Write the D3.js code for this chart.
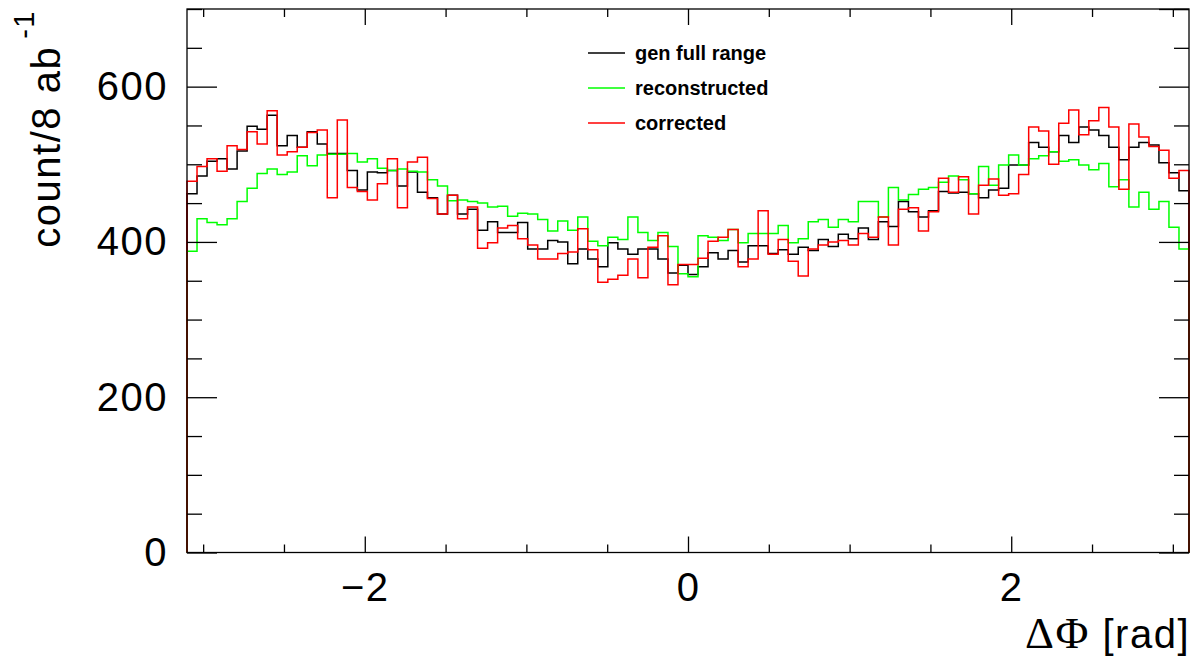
<!DOCTYPE html>
<html>
<head>
<meta charset="utf-8">
<script src="https://cdn.jsdelivr.net/npm/d3@7"></script>
<style>
  body { margin: 0; background: #fff; }
  svg { display: block; font-family: "Liberation Sans", Arial, sans-serif; }
</style>
</head>
<body>
<svg id="chart" width="1194" height="658"></svg>
<script>
// histogram range and binning
const xRange = [-3.1, 3.1];
const yRange = [0, 700];

// per-bin contents, 100 bins
const genFullRange = [
  462, 485, 504, 507, 494, 517, 549, 545, 563, 524,
  537, 522, 542, 526, 514, 514, 492, 467, 490, 489,
  492, 472, 490, 464, 457, 436, 460, 436, 442, 415,
  426, 412, 412, 425, 391, 391, 402, 400, 372, 391,
  378, 368, 399, 391, 384, 391, 391, 378, 360, 370,
  358, 368, 386, 378, 389, 374, 395, 395, 385, 390,
  384, 393, 389, 403, 394, 410, 404, 418, 403, 426,
  420, 452, 439, 432, 440, 465, 463, 464, 462, 457,
  467, 469, 499, 499, 528, 522, 516, 537, 528, 548,
  544, 537, 522, 506, 522, 528, 525, 502, 489, 466
];
const reconstructed = [
  388, 430, 425, 422, 430, 452, 469, 488, 494, 487,
  490, 511, 498, 512, 513, 513, 514, 503, 507, 495,
  492, 494, 491, 490, 480, 472, 453, 454, 452, 450,
  445, 446, 433, 437, 436, 429, 414, 427, 415, 432,
  401, 395, 406, 403, 432, 412, 402, 412, 394, 359,
  355, 408, 406, 402, 416, 399, 411, 411, 411, 421,
  399, 404, 426, 429, 419, 429, 426, 452, 452, 432,
  470, 454, 461, 468, 470, 477, 485, 480, 462, 497,
  473, 499, 512, 499, 507, 511, 516, 504, 506, 499,
  493, 501, 471, 480, 445, 464, 442, 452, 419, 391
];
const corrected = [
  478, 497, 507, 491, 524, 519, 542, 526, 569, 512,
  516, 522, 541, 544, 457, 557, 470, 465, 454, 475,
  507, 444, 503, 509, 456, 436, 460, 430, 445, 392,
  399, 418, 421, 404, 396, 378, 378, 385, 387, 417,
  390, 348, 352, 357, 378, 354, 393, 408, 345, 371,
  371, 379, 401, 406, 416, 368, 378, 440, 384, 403,
  375, 356, 391, 396, 400, 402, 396, 411, 406, 432,
  396, 442, 444, 414, 439, 482, 464, 484, 436, 473,
  481, 460, 462, 487, 548, 543, 500, 553, 570, 538,
  556, 573, 548, 468, 552, 535, 523, 518, 482, 492
];

const seriesNames = ["gen full range", "reconstructed", "corrected"];
const seriesColors = ["#000000", "#00ff00", "#ff0000"];
const seriesValues = [genFullRange, reconstructed, corrected];

// tick labels
const xMajorTicks = [-2, 0, 2];
const yMajorTicks = [0, 200, 400, 600];

// frame geometry
const frame = { left: 187, right: 1189, top: 9, bottom: 552.5 };

const svg = d3.select("#chart");

const x = d3.scaleLinear().domain(xRange).range([frame.left, frame.right]);
const y = d3.scaleLinear().domain(yRange).range([frame.bottom, frame.top]);

const xMinorTicks = d3.range(-3, 3.001, 0.5).filter(v => !xMajorTicks.includes(v));
const yMinorTicks = d3.range(0, 701, 50).filter(v => !yMajorTicks.includes(v));

const fmtX = d => (d < 0 ? "\u2212" + Math.abs(d) : String(d));

// step path, starting and ending at zero like ROOT does
const stepPoints = (vals) => {
  const w = (xRange[1] - xRange[0]) / vals.length;
  const pts = [[xRange[0], 0]];
  vals.forEach((v, i) => {
    pts.push([xRange[0] + i * w, v]);
    pts.push([xRange[0] + (i + 1) * w, v]);
  });
  pts.push([xRange[1], 0]);
  return pts;
};

const line = d3.line()
  .x(d => x(d[0]))
  .y(d => y(d[1]));

// histograms
svg.append("g")
  .selectAll("path")
  .data(seriesValues)
  .join("path")
  .attr("d", d => line(stepPoints(d)))
  .attr("fill", "none")
  .attr("stroke", (d, i) => seriesColors[i])
  .attr("stroke-width", 1.5);

// axes: ticks point inward on all four sides
const styleAxis = (g) => {
  g.select(".domain").remove();
  g.selectAll(".tick line").attr("stroke", "#000").attr("stroke-width", 1.3);
  g.selectAll(".tick text")
    .attr("fill", "#000")
    .style("font-size", "40px")
    .style("letter-spacing", "1.5px");
};

const bottomG = svg.append("g").attr("transform", `translate(0,${frame.bottom})`);
bottomG.append("g")
  .call(d3.axisBottom(x).tickValues(xMinorTicks).tickSize(-8).tickFormat(""))
  .call(styleAxis);
bottomG.append("g")
  .call(d3.axisBottom(x).tickValues(xMajorTicks).tickSize(-16).tickPadding(20).tickFormat(fmtX))
  .call(styleAxis);

const topG = svg.append("g").attr("transform", `translate(0,${frame.top})`);
topG.append("g")
  .call(d3.axisTop(x).tickValues(xMinorTicks).tickSize(-8).tickFormat(""))
  .call(styleAxis);
topG.append("g")
  .call(d3.axisTop(x).tickValues(xMajorTicks).tickSize(-16).tickFormat(""))
  .call(styleAxis);

const leftG = svg.append("g").attr("transform", `translate(${frame.left},0)`);
leftG.append("g")
  .call(d3.axisLeft(y).tickValues(yMinorTicks).tickSize(-15).tickFormat(""))
  .call(styleAxis);
leftG.append("g")
  .call(d3.axisLeft(y).tickValues(yMajorTicks).tickSize(-30).tickPadding(19))
  .call(styleAxis);

const rightG = svg.append("g").attr("transform", `translate(${frame.right},0)`);
rightG.append("g")
  .call(d3.axisRight(y).tickValues(yMinorTicks).tickSize(-15).tickFormat(""))
  .call(styleAxis);
rightG.append("g")
  .call(d3.axisRight(y).tickValues(yMajorTicks.concat([700])).tickSize(-30).tickFormat(""))
  .call(styleAxis);

// frame
svg.append("rect")
  .attr("x", frame.left)
  .attr("y", frame.top)
  .attr("width", frame.right - frame.left)
  .attr("height", frame.bottom - frame.top)
  .attr("fill", "none")
  .attr("stroke", "#000")
  .attr("stroke-width", 1.3);

// axis titles
const xTitle = svg.append("text")
  .attr("x", 1190)
  .attr("y", 648)
  .attr("text-anchor", "end")
  .style("font-size", "40px")
  .style("letter-spacing", "1.5px");
xTitle.append("tspan")
  .style("font-family", "'Liberation Serif', serif")
  .style("font-size", "45px")
  .text("\u0394\u03a6");
xTitle.append("tspan").text(" [rad]");

const yTitle = svg.append("text")
  .attr("transform", "translate(60,10) rotate(-90)")
  .attr("text-anchor", "end")
  .style("font-size", "40px")
  .style("letter-spacing", "1.5px");
yTitle.append("tspan").text("count/8 ab");
yTitle.append("tspan").attr("dy", -26).attr("dx", 7).style("font-size", "29px").text("-1");

// legend
const legend = svg.append("g").attr("transform", "translate(588,53)");
const rows = legend.selectAll("g")
  .data(seriesNames)
  .join("g")
  .attr("transform", (d, i) => `translate(0,${i * 35})`);
rows.append("line")
  .attr("x1", 0).attr("x2", 37)
  .attr("stroke", (d, i) => seriesColors[i])
  .attr("stroke-width", 1.3);
rows.append("text")
  .attr("x", 47)
  .attr("dy", "0.35em")
  .style("font-size", "20px")
  .style("font-weight", "bold")
  .text(d => d);
</script>
</body>
</html>
